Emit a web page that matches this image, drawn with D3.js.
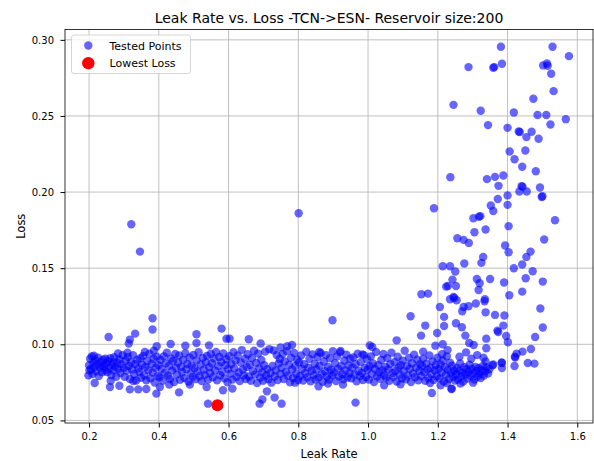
<!DOCTYPE html>
<html>
<head>
<meta charset="utf-8">
<script src="https://cdn.jsdelivr.net/npm/d3@7"></script>
<style>
  body { margin: 0; background: #fff; }
  text { font-family: "DejaVu Sans", sans-serif; fill: #000; }
</style>
</head>
<body>
<script>
// Tick labels
var xTicks = [0.2, 0.4, 0.6, 0.8, 1.0, 1.2, 1.4, 1.6];
var yTicks = [0.05, 0.10, 0.15, 0.20, 0.25, 0.30];

// Lowest loss point
var bestLeak = 0.568, bestLoss = 0.0599;

// Tested points: sparse upper tail (leak > 1.1)
var tailPoints = [
  [1.381,0.2955],[1.529,0.2955],[1.576,0.2893],[1.288,0.2821],[1.359,0.2817],[1.362,0.2821],[1.384,0.2843],
  [1.502,0.2832],[1.513,0.2845],[1.515,0.2830],[1.525,0.2777],[1.532,0.2663],[1.474,0.2613],[1.245,0.2573],
  [1.323,0.2534],[1.418,0.2523],[1.486,0.2506],[1.511,0.2506],[1.567,0.2479],[1.523,0.2444],[1.344,0.2440],
  [1.400,0.2422],[1.432,0.2398],[1.435,0.2395],[1.469,0.2396],[1.454,0.2361],[1.489,0.2350],[1.406,0.2267],
  [1.451,0.2273],[1.420,0.2216],[1.442,0.2166],[1.481,0.2137],[1.236,0.2098],[1.341,0.2085],[1.364,0.2100],
  [1.388,0.2109],[1.374,0.2041],[1.440,0.2039],[1.443,0.2035],[1.434,0.2004],[1.455,0.2004],[1.493,0.2030],
  [1.500,0.1973],[1.498,0.1968],[1.400,0.1978],[1.400,0.1916],[1.372,0.1955],[1.352,0.1912],[1.359,0.1876],
  [1.189,0.1894],[1.302,0.1828],[1.322,0.1842],[1.318,0.1838],[1.536,0.1815],[1.403,0.1776],[1.337,0.1754],
  [1.305,0.1736],[1.256,0.1697],[1.274,0.1686],[1.289,0.1666],[1.505,0.1688],[1.393,0.1649],[1.403,0.1605],
  [1.466,0.1609],[1.454,0.1574],[1.330,0.1574],[1.325,0.1535],[1.276,0.1531],[1.214,0.1513],[1.235,0.1513],
  [1.250,0.1478],[1.418,0.1500],[1.442,0.1524],[1.472,0.1480],[1.312,0.1429],[1.242,0.1425],[1.320,0.1401],
  [1.350,0.1429],[1.390,0.1406],[1.452,0.1434],[1.501,0.1412],[1.224,0.1379],[1.229,0.1383],[1.252,0.1383],
  [1.317,0.1357],[1.153,0.1329],[1.172,0.1333],[1.245,0.1311],[1.247,0.1304],[1.235,0.1296],[1.254,0.1289],
  [1.405,0.1322],[1.442,0.1346],[1.335,0.1296],[1.309,0.1268],[1.288,0.1250],[1.274,0.1245],[1.206,0.1245],
  [1.270,0.1217],[1.337,0.1210],[1.364,0.1193],[1.391,0.1189],[1.494,0.1235],[1.122,0.1184],[1.218,0.1180],
  [1.164,0.1123],[1.218,0.1120],[1.252,0.1138],[1.269,0.1112],[1.388,0.1123],[1.371,0.1090],[1.501,0.1110],
  [1.334,0.1283],[1.373,0.1081],[1.396,0.1055],[1.401,0.1013],[1.339,0.1037],[1.339,0.0974],[1.279,0.1057],
  [1.290,0.1009],[1.303,0.0995],[1.198,0.1074],[1.152,0.1057],[1.214,0.1000],[1.193,0.0991],[1.082,0.1026],
  [1.012,0.0982],[1.479,0.1048],[1.467,0.0969],[1.443,0.0952],[1.426,0.0939],[1.422,0.0913],[1.458,0.0877],
  [1.477,0.0873],[1.420,0.0857],[1.384,0.0877],[1.384,0.0844],[1.357,0.0862],[1.337,0.0888],[1.421,0.0919],
  [1.383,0.0880],[1.359,0.0867]
];

// Tested points: outliers around the low-loss band
var outlierPoints = [
  [0.321,0.1789],[0.346,0.1609],[0.801,0.1861],[0.382,0.1171],[0.898,0.1158],[0.382,0.1097],[0.580,0.1103],
  [0.256,0.1048],[0.317,0.1031],[0.332,0.1070],[0.314,0.1005],[0.508,0.1066],[0.434,0.1002],[0.394,0.0987],
  [0.476,0.0991],[0.508,0.1008],[0.544,0.0993],[0.594,0.1037],[0.541,0.0610],[0.458,0.0684],[0.393,0.0676],
  [0.658,0.1033],[0.692,0.1005],[0.603,0.1037],[0.782,0.0995],[0.768,0.0987],[0.749,0.0980],[0.697,0.0638],
  [0.689,0.0610],[0.732,0.0650],[0.752,0.0610],[0.964,0.0617],[0.710,0.0691],[0.611,0.0709],[0.858,0.0724],
  [0.791,0.0748],[0.885,0.0742],[0.928,0.0735],[1.005,0.0993],[0.860,0.0950],[0.921,0.0956],[0.984,0.0934],
  [1.183,0.0680],[1.239,0.0706],[1.208,0.0730],[1.178,0.0746],[1.240,0.0709],[0.216,0.0746],[0.260,0.0719],
  [0.287,0.0728],[0.317,0.0704],[0.341,0.0704],[0.364,0.0706],[0.403,0.0719],[0.430,0.0735],[0.489,0.0735],
  [0.537,0.0719],[0.584,0.0698],[0.198,0.0796],
  [1.212,0.0935],[1.228,0.0962],[1.262,0.0918],[1.281,0.0947],[1.296,0.0905],[1.313,0.0929],[1.331,0.0912],
  [1.265,0.0742],[1.301,0.0748],[1.226,0.0745],[1.046,0.0731],[1.093,0.0738],[1.158,0.0952]
];

// Tested points: the dense low-loss band
var bandPoints = [
  [0.200,0.0862],[0.203,0.0905],[0.205,0.0838],[0.208,0.0921],[0.210,0.0805],[0.212,0.0878],[0.215,0.0850],
  [0.218,0.0895],[0.220,0.0822],[0.223,0.0868],[0.226,0.0912],[0.228,0.0791],[0.231,0.0845],[0.234,0.0883],
  [0.237,0.0817],[0.240,0.0899],[0.243,0.0856],[0.246,0.0830],[0.249,0.0874],[0.201,0.0830],[0.214,0.0925],
  [0.236,0.0860],[0.247,0.0905],
  [0.252,0.0818],[0.255,0.0889],[0.258,0.0842],[0.261,0.0908],[0.264,0.0797],[0.266,0.0866],[0.269,0.0830],
  [0.272,0.0915],[0.275,0.0852],[0.278,0.0787],[0.281,0.0879],[0.284,0.0837],[0.287,0.0901],[0.290,0.0812],
  [0.293,0.0868],[0.296,0.0928],[0.299,0.0845],[0.262,0.0760],[0.283,0.0940],[0.270,0.0880],
  [0.302,0.0786],[0.305,0.0893],[0.308,0.0826],[0.311,0.0916],[0.314,0.0858],[0.317,0.0772],[0.320,0.0881],
  [0.323,0.0835],[0.326,0.0929],[0.329,0.0803],[0.332,0.0870],[0.335,0.0762],[0.338,0.0897],[0.341,0.0843],
  [0.344,0.0818],[0.347,0.0908],[0.349,0.0780],[0.310,0.0945],[0.327,0.0758],
  [0.352,0.0866],[0.355,0.0924],[0.358,0.0797],[0.361,0.0851],[0.364,0.0764],[0.367,0.0889],[0.370,0.0830],
  [0.373,0.0938],[0.376,0.0776],[0.379,0.0872],[0.382,0.0815],[0.385,0.0903],[0.388,0.0749],[0.391,0.0846],
  [0.394,0.0919],[0.397,0.0792],[0.399,0.0862],[0.360,0.0950],[0.386,0.0958],
  [0.402,0.0783],[0.405,0.0897],[0.408,0.0838],[0.411,0.0760],[0.414,0.0921],[0.417,0.0811],[0.420,0.0875],
  [0.423,0.0945],[0.426,0.0794],[0.429,0.0858],[0.432,0.0772],[0.435,0.0907],[0.438,0.0827],[0.441,0.0890],
  [0.444,0.0752],[0.447,0.0936],[0.449,0.0845],
  [0.452,0.0801],[0.455,0.0880],[0.458,0.0927],[0.461,0.0767],[0.464,0.0852],[0.467,0.0816],[0.470,0.0898],
  [0.473,0.0778],[0.476,0.0942],[0.479,0.0836],[0.482,0.0870],[0.485,0.0756],[0.488,0.0913],[0.491,0.0808],
  [0.494,0.0861],[0.497,0.0786],[0.499,0.0930],
  [0.502,0.0843],[0.505,0.0771],[0.508,0.0895],[0.511,0.0822],[0.514,0.0948],[0.517,0.0790],[0.520,0.0867],
  [0.523,0.0758],[0.526,0.0911],[0.529,0.0835],[0.532,0.0799],[0.535,0.0883],[0.538,0.0924],[0.541,0.0768],
  [0.544,0.0850],[0.547,0.0812],[0.549,0.0938],
  [0.552,0.0876],[0.555,0.0784],[0.558,0.0906],[0.561,0.0829],[0.564,0.0950],[0.567,0.0763],[0.570,0.0858],
  [0.573,0.0917],[0.576,0.0797],[0.579,0.0884],[0.582,0.0820],[0.585,0.0940],[0.588,0.0776],[0.591,0.0863],
  [0.594,0.0902],[0.597,0.0751],[0.599,0.0838],
  [0.602,0.0922],[0.605,0.0806],[0.608,0.0870],[0.611,0.0768],[0.614,0.0948],[0.617,0.0841],[0.620,0.0893],
  [0.623,0.0786],[0.626,0.0927],[0.629,0.0815],[0.632,0.0759],[0.635,0.0880],[0.638,0.0962],[0.641,0.0834],
  [0.644,0.0796],[0.647,0.0905],[0.649,0.0772],
  [0.652,0.0851],[0.655,0.0935],[0.658,0.0789],[0.661,0.0866],[0.664,0.0760],[0.667,0.0910],[0.670,0.0824],
  [0.673,0.0958],[0.676,0.0801],[0.679,0.0877],[0.682,0.0746],[0.685,0.0939],[0.688,0.0843],[0.691,0.0782],
  [0.694,0.0897],[0.697,0.0815],[0.699,0.0760],
  [0.702,0.0862],[0.705,0.0952],[0.708,0.0795],[0.711,0.0837],[0.714,0.0771],[0.717,0.0968],[0.720,0.0812],
  [0.723,0.0748],[0.726,0.0857],[0.729,0.0960],[0.732,0.0788],[0.735,0.0829],[0.738,0.0930],[0.741,0.0765],
  [0.744,0.0875],[0.747,0.0903],[0.749,0.0806],
  [0.752,0.0845],[0.755,0.0937],[0.758,0.0772],[0.761,0.0888],[0.764,0.0819],[0.767,0.0955],[0.770,0.0794],
  [0.773,0.0866],[0.776,0.0750],[0.779,0.0912],[0.782,0.0834],[0.785,0.0778],[0.788,0.0943],[0.791,0.0857],
  [0.794,0.0806],[0.797,0.0899],[0.799,0.0765],
  [0.802,0.0881],[0.805,0.0792],[0.808,0.0926],[0.811,0.0838],[0.814,0.0762],[0.817,0.0869],[0.820,0.0810],
  [0.823,0.0951],[0.826,0.0784],[0.829,0.0847],[0.832,0.0905],[0.835,0.0757],[0.838,0.0826],[0.841,0.0934],
  [0.844,0.0799],[0.847,0.0872],[0.849,0.0769],
  [0.852,0.0836],[0.855,0.0917],[0.858,0.0781],[0.861,0.0859],[0.864,0.0943],[0.867,0.0805],[0.870,0.0754],
  [0.873,0.0887],[0.876,0.0823],[0.879,0.0929],[0.882,0.0790],[0.885,0.0851],[0.888,0.0768],[0.891,0.0908],
  [0.894,0.0833],[0.897,0.0797],[0.899,0.0955],
  [0.902,0.0815],[0.905,0.0876],[0.908,0.0759],[0.911,0.0921],[0.914,0.0840],[0.917,0.0788],[0.920,0.0947],
  [0.923,0.0857],[0.926,0.0803],[0.929,0.0770],[0.932,0.0894],[0.935,0.0829],[0.938,0.0932],[0.941,0.0782],
  [0.944,0.0861],[0.947,0.0810],[0.949,0.0905],
  [0.952,0.0776],[0.955,0.0848],[0.958,0.0914],[0.961,0.0801],[0.964,0.0869],[0.967,0.0757],[0.970,0.0938],
  [0.973,0.0826],[0.976,0.0791],[0.979,0.0883],[0.982,0.0812],[0.985,0.0765],[0.988,0.0929],[0.991,0.0845],
  [0.994,0.0785],[0.997,0.0902],[0.999,0.0834],
  [1.002,0.0768],[1.005,0.0856],[1.008,0.0921],[1.011,0.0805],[1.014,0.0874],[1.017,0.0752],[1.020,0.0838],
  [1.023,0.0950],[1.026,0.0790],[1.029,0.0863],[1.032,0.0817],[1.035,0.0774],[1.038,0.0897],[1.041,0.0828],
  [1.044,0.0936],[1.047,0.0797],[1.049,0.0852],
  [1.052,0.0781],[1.055,0.0909],[1.058,0.0834],[1.061,0.0760],[1.064,0.0870],[1.067,0.0945],[1.070,0.0812],
  [1.073,0.0787],[1.076,0.0882],[1.079,0.0826],[1.082,0.0755],[1.085,0.0918],[1.088,0.0848],[1.091,0.0801],
  [1.094,0.0864],[1.097,0.0776],[1.099,0.0893],
  [1.102,0.0823],[1.105,0.0958],[1.108,0.0770],[1.111,0.0857],[1.114,0.0795],[1.117,0.0911],[1.120,0.0839],
  [1.123,0.0752],[1.126,0.0876],[1.129,0.0808],[1.132,0.0932],[1.135,0.0784],[1.138,0.0845],[1.141,0.0899],
  [1.144,0.0763],[1.147,0.0826],[1.149,0.0870],
  [1.152,0.0792],[1.155,0.0858],[1.158,0.0906],[1.161,0.0817],[1.164,0.0761],[1.167,0.0873],[1.170,0.0834],
  [1.173,0.0779],[1.176,0.0927],[1.179,0.0846],[1.182,0.0803],[1.185,0.0888],[1.188,0.0766],[1.191,0.0829],
  [1.194,0.0864],[1.197,0.0790],[1.199,0.0912],
  [1.202,0.0838],[1.205,0.0776],[1.208,0.0867],[1.211,0.0815],[1.214,0.0894],[1.217,0.0756],[1.220,0.0850],
  [1.223,0.0799],[1.226,0.0921],[1.229,0.0831],[1.232,0.0772],[1.235,0.0879],[1.238,0.0813],[1.241,0.0859],
  [1.244,0.0787],[1.247,0.0826],[1.249,0.0762],
  [1.252,0.0803],[1.255,0.0844],[1.258,0.0769],[1.261,0.0827],[1.264,0.0874],[1.267,0.0790],[1.270,0.0812],
  [1.273,0.0756],[1.276,0.0849],[1.279,0.0801],[1.282,0.0836],[1.285,0.0775],[1.288,0.0820],[1.291,0.0866],
  [1.294,0.0793],[1.297,0.0838],
  [1.302,0.0810],[1.305,0.0769],[1.308,0.0852],[1.311,0.0824],[1.314,0.0788],[1.317,0.0843],[1.320,0.0806],
  [1.323,0.0779],[1.326,0.0831],[1.329,0.0858],[1.332,0.0795],[1.336,0.0822],[1.340,0.0849],[1.344,0.0808],
  [1.348,0.0836]
];

var tested = bandPoints.concat(outlierPoints, tailPoints);

var W = 594, H = 461;
var plot = {left: 65, right: 593, top: 29.5, bottom: 423};

var xScale = d3.scaleLinear().domain([0.131, 1.645]).range([plot.left, plot.right]);
var yScale = d3.scaleLinear().domain([0.0483, 0.3068]).range([plot.bottom, plot.top]);

var svg = d3.select("body").append("svg")
    .attr("width", W)
    .attr("height", H);

// grid
svg.append("g").selectAll("line.gx")
    .data(xTicks).enter().append("line")
    .attr("x1", function (d) { return xScale(d); })
    .attr("x2", function (d) { return xScale(d); })
    .attr("y1", plot.top).attr("y2", plot.bottom)
    .attr("stroke", "#b0b0b0").attr("stroke-width", 0.8);
svg.append("g").selectAll("line.gy")
    .data(yTicks).enter().append("line")
    .attr("y1", function (d) { return yScale(d); })
    .attr("y2", function (d) { return yScale(d); })
    .attr("x1", plot.left).attr("x2", plot.right)
    .attr("stroke", "#b0b0b0").attr("stroke-width", 0.8);

// tested points
svg.append("g").selectAll("circle")
    .data(tested).enter().append("circle")
    .attr("cx", function (d) { return xScale(d[0]); })
    .attr("cy", function (d) { return yScale(d[1]); })
    .attr("r", 4.2)
    .attr("fill", "blue")
    .attr("fill-opacity", 0.6);

// lowest loss
svg.append("circle")
    .attr("cx", xScale(bestLeak))
    .attr("cy", yScale(bestLoss))
    .attr("r", 6)
    .attr("fill", "red");

// axes
svg.append("g")
    .attr("transform", "translate(0," + plot.bottom + ")")
    .call(d3.axisBottom(xScale).tickValues(xTicks).tickFormat(d3.format(".1f")).tickSizeOuter(0).tickSize(4.5).tickPadding(5.5))
    .call(function (g) { g.select(".domain").remove(); })
    .selectAll("text").style("font-size", "10px").style("font-family", "DejaVu Sans");
svg.append("g")
    .attr("transform", "translate(" + plot.left + ",0)")
    .call(d3.axisLeft(yScale).tickValues(yTicks).tickFormat(d3.format(".2f")).tickSizeOuter(0).tickSize(4.5).tickPadding(6.5))
    .call(function (g) { g.select(".domain").remove(); })
    .selectAll("text").style("font-size", "10px").style("font-family", "DejaVu Sans");

// frame
svg.append("rect")
    .attr("x", plot.left).attr("y", plot.top)
    .attr("width", plot.right - plot.left).attr("height", plot.bottom - plot.top)
    .attr("fill", "none").attr("stroke", "#000").attr("stroke-width", 0.8);

// title and labels
svg.append("text")
    .attr("x", (plot.left + plot.right) / 2).attr("y", 22.5)
    .attr("text-anchor", "middle").style("font-size", "14px")
    .text("Leak Rate vs. Loss -TCN->ESN- Reservoir size:200");
svg.append("text")
    .attr("x", (plot.left + plot.right) / 2).attr("y", 457.5)
    .attr("text-anchor", "middle").style("font-size", "11.5px")
    .text("Leak Rate");
svg.append("text")
    .attr("transform", "translate(24.5," + ((plot.top + plot.bottom) / 2) + ") rotate(-90)")
    .attr("text-anchor", "middle").style("font-size", "11.5px")
    .text("Loss");

// legend
var legend = svg.append("g");
legend.append("rect")
    .attr("x", 71.5).attr("y", 35).attr("width", 119).attr("height", 38.5)
    .attr("rx", 2.5).attr("fill", "#fff").attr("fill-opacity", 0.8)
    .attr("stroke", "#cccccc").attr("stroke-width", 0.8);
legend.append("circle").attr("cx", 88.3).attr("cy", 45.5).attr("r", 4.2)
    .attr("fill", "blue").attr("fill-opacity", 0.6);
legend.append("circle").attr("cx", 88.3).attr("cy", 63.2).attr("r", 6.2)
    .attr("fill", "red");
legend.append("text").attr("x", 109.5).attr("y", 49.5).style("font-size", "11px").text("Tested Points");
legend.append("text").attr("x", 109.5).attr("y", 67.2).style("font-size", "11px").text("Lowest Loss");
</script>
</body>
</html>
